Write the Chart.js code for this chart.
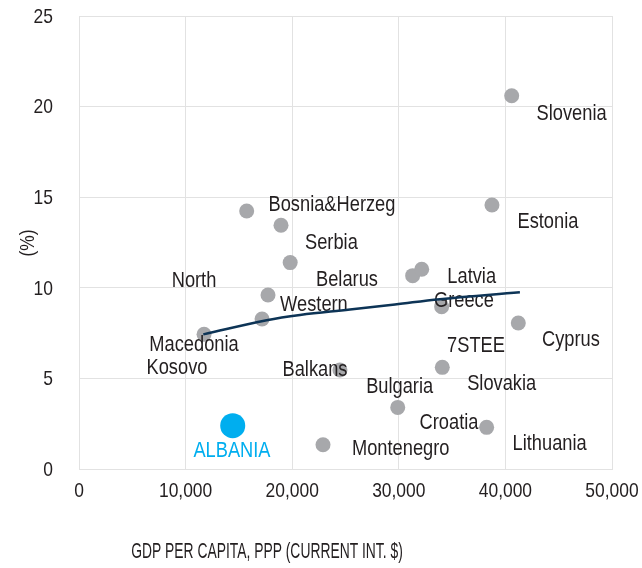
<!DOCTYPE html>
<html>
<head>
<meta charset="utf-8">
<script src="https://cdn.jsdelivr.net/npm/chart.js@4/dist/chart.umd.min.js"></script>
<style>
  html, body { margin: 0; padding: 0; background: #fff; }
  #wrap { width: 642px; height: 568px; position: relative; }
</style>
</head>
<body>
<div id="wrap"><canvas id="c" width="642" height="568"></canvas></div>
<script>
// ---- data ----
const pointsX = [40590, 38740, 15730, 18950, 19810, 17730, 17170, 11730, 22890, 24480, 31300, 32150, 34020, 41210, 34080, 29900, 38240];
const pointsY = [20.6, 14.57, 14.24, 13.45, 11.39, 9.6, 8.28, 7.43, 1.34, 5.46, 10.67, 11.02, 8.96, 8.06, 5.61, 3.4, 2.3];
const albaniaX = [14420];
const albaniaY = [2.39];
const trendX = [11660, 17600, 20730, 25420, 29640, 33860, 41360];
const trendY = [7.43, 8.21, 8.50, 8.80, 9.08, 9.37, 9.75];
const labelNames = ["Slovenia", "Estonia", "Bosnia&Herzeg", "Serbia", "North", "Belarus", "Latvia", "Western", "Greece", "Macedonia", "7STEE", "Cyprus", "Kosovo", "Balkans", "Slovakia", "Bulgaria", "Croatia", "Lithuania", "Montenegro"];
const labelX = [46210, 43990, 23730, 23680, 10790, 25140, 36840, 22040, 36110, 10790, 37240, 46150, 9190, 22140, 39650, 30080, 34710, 44150, 30180];
const labelY = [19.59, 13.65, 14.57, 12.46, 10.39, 10.43, 10.60, 9.05, 9.27, 6.84, 6.79, 7.12, 5.57, 5.46, 4.69, 4.51, 2.52, 1.38, 1.09];
const albaniaLabel = "ALBANIA";
const albaniaLabelX = [14350];
const albaniaLabelY = [1.01];
const xTicks = [0, 10000, 20000, 30000, 40000, 50000];
const yTicks = [0, 5, 10, 15, 20, 25];
const xTitle = "GDP PER CAPITA, PPP (CURRENT INT. $)";
const yTitle = "(%)";

const FONT = "'Liberation Sans', Arial, sans-serif";
const SX = 0.83;               // horizontal condensing of text
const TEXT = "#231f20";
const GREY = "#a7a8ab";
const BLUE = "#00aeef";
const NAVY = "#0d3456";
const GRID = "#e2e2e2";

const toXY = (xs, ys) => xs.map((x, i) => ({ x: x, y: ys[i] }));

function txt(ctx, s, x, y, align, sx) {
  ctx.save();
  ctx.translate(x, y);
  ctx.scale(sx || SX, 1);
  ctx.textAlign = align || 'center';
  ctx.textBaseline = 'middle';
  ctx.fillText(s, 0, 0);
  ctx.restore();
}

const labelPlugin = {
  id: 'labels',
  afterDatasetDraw(chart, args) {
    if (args.index !== 1) return;
    const ctx = chart.ctx, xs = chart.scales.x, ys = chart.scales.y;
    ctx.save();
    ctx.font = "22px " + FONT;
    ctx.fillStyle = TEXT;
    labelNames.forEach((n, i) => {
      txt(ctx, n, xs.getPixelForValue(labelX[i]), ys.getPixelForValue(labelY[i]));
    });
    ctx.fillStyle = BLUE;
    txt(ctx, albaniaLabel, xs.getPixelForValue(albaniaLabelX[0]), ys.getPixelForValue(albaniaLabelY[0]));
    ctx.restore();
  },
  afterDraw(chart) {
    const ctx = chart.ctx, xs = chart.scales.x, ys = chart.scales.y;
    ctx.save();
    ctx.fillStyle = TEXT;
    ctx.font = "21px " + FONT;
    xTicks.forEach(v => txt(ctx, v.toLocaleString('en-US'), xs.getPixelForValue(v), 491, 'center'));
    yTicks.forEach(v => txt(ctx, String(v), 53, ys.getPixelForValue(v) + 1, 'right'));
    ctx.font = "22px " + FONT;
    txt(ctx, xTitle, 267, 552, 'center', 0.63);
    ctx.font = "21px " + FONT;
    ctx.translate(28, 243);
    ctx.rotate(-Math.PI / 2);
    txt(ctx, yTitle, 0, 0, 'center');
    ctx.restore();
  }
};

new Chart(document.getElementById('c'), {
  type: 'scatter',
  data: {
    datasets: [
      {
        type: 'line',
        data: toXY(trendX, trendY),
        borderColor: NAVY,
        borderWidth: 2.5,
        pointRadius: 0,
        tension: 0.4,
        fill: false,
        order: 0
      },
      {
        data: toXY(pointsX, pointsY),
        backgroundColor: GREY,
        borderColor: GREY,
        pointRadius: 7.5,
        pointBorderWidth: 0,
        order: 1
      },
      {
        data: toXY(albaniaX, albaniaY),
        backgroundColor: BLUE,
        borderColor: BLUE,
        pointRadius: 12.5,
        pointBorderWidth: 0,
        order: 1
      }
    ]
  },
  options: {
    responsive: false,
    animation: false,
    devicePixelRatio: 1,
    layout: { padding: { top: 16, right: 30, left: 0, bottom: 0 } },
    plugins: { legend: { display: false }, tooltip: { enabled: false } },
    scales: {
      x: {
        type: 'linear',
        min: 0, max: 50000,
        afterBuildTicks: s => { s.ticks = xTicks.map(v => ({ value: v })); },
        afterFit: s => { s.height = 99; s.paddingLeft = 0; s.paddingRight = 0; },
        grid: { color: GRID, lineWidth: 1, drawTicks: false },
        border: { color: GRID },
        ticks: { display: false }
      },
      y: {
        type: 'linear',
        min: 0, max: 25,
        afterBuildTicks: s => { s.ticks = yTicks.map(v => ({ value: v })); },
        afterFit: s => { s.width = 79; s.paddingTop = 0; s.paddingBottom = 0; },
        grid: { color: GRID, lineWidth: 1, drawTicks: false },
        border: { color: GRID },
        ticks: { display: false }
      }
    }
  },
  plugins: [labelPlugin]
});
</script>
</body>
</html>
